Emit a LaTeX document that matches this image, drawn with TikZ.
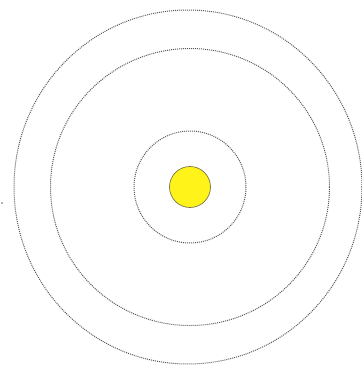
\documentclass[tikz,border=0pt]{standalone}
\usepackage{tikz}
\usetikzlibrary{positioning}

\begin{document}
\begin{tikzpicture}[
            x=1pt, y=-1pt,
            orbit line/.style={draw=black!65, densely dotted, line width=1pt},
            sun node/.style={circle, draw=black!60!yellow, fill=yellow!90!white, line width=0.7pt, minimum size=41pt, inner sep=0pt}
        ]

            \useasboundingbox (0,0) rectangle (362,365);

            % --- Centre ---
            \node[sun node] (sun) at (190,187) {};

            % --- Orbits ---
            \draw[orbit line] (sun.center) circle[radius=56];
            \draw[orbit line] (sun.center) ellipse[x radius=139.5, y radius=138.5];
            \draw[orbit line] ([xshift=-2pt]sun.center) ellipse[x radius=174, y radius=177];

            % --- Stray mark on the left ---
            \fill[black!60] (2,203) circle[radius=0.8];

        \end{tikzpicture}
\end{document}
